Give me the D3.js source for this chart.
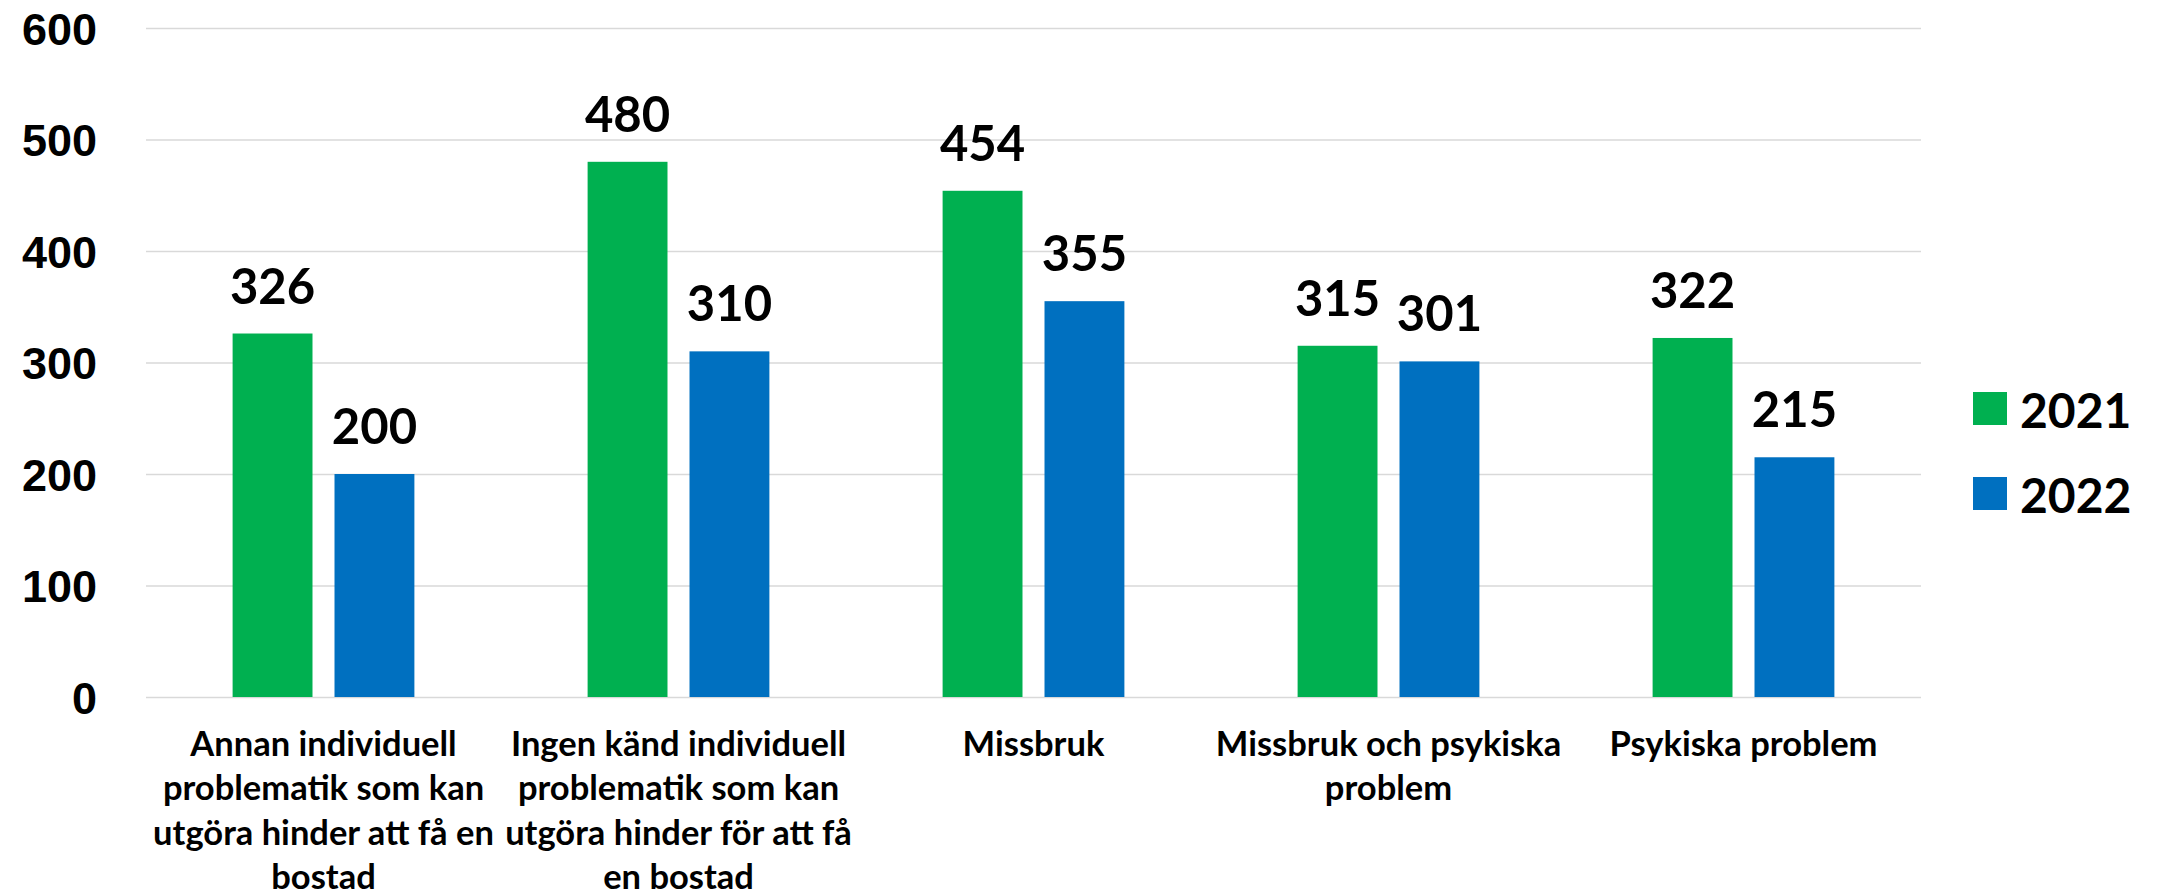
<!DOCTYPE html>
<html>
<head lang="sv">
    <meta charset="UTF-8">
    <title>Stapeldiagram 2021-2022</title>
    <script type="text/javascript" src="https://d3js.org/d3.v7.min.js"></script>
    <style type="text/css">
        body { margin: 0; background: #fff; }
        svg { font-family: Lato, "Open Sans", sans-serif; font-weight: bold; }
        .grid line { stroke: #d9d9d9; stroke-width: 1.6; }
        .grid text { font-size: 45px; fill: #000; }
        .val { font-size: 49px; fill: #000; text-anchor: middle; }
        .cat { font-size: 34.5px; fill: #000; text-anchor: middle; }
        .leg { font-size: 48px; fill: #000; }
    </style>
</head>
<body>
<script type="text/javascript">
    // data
    var categories = ["Annan", "Ingen", "Missbruk", "MissbrukPsyk", "Psykiska"];
    var categoryLines = [
        ["Annan individuell", "problematik som kan", "utgöra hinder att få en", "bostad"],
        ["Ingen känd individuell", "problematik som kan", "utgöra hinder för att få", "en bostad"],
        ["Missbruk"],
        ["Missbruk och psykiska", "problem"],
        ["Psykiska problem"]
    ];
    var seriesNames = ["2021", "2022"];
    var values2021 = [326, 480, 454, 315, 322];
    var values2022 = [200, 310, 355, 301, 215];
    var yTicks = [0, 100, 200, 300, 400, 500, 600];
    var colors = ["#00b050", "#0070c0"];

    var W = 2160, H = 894;
    var plotL = 146, plotR = 1921, plotT = 28, plotB = 697;

    var svg = d3.select("body").append("svg")
        .attr("width", W).attr("height", H);

    var y = d3.scaleLinear().domain([0, 600]).range([plotB, plotT]);
    var x0 = d3.scaleBand().domain(categories).range([plotL, plotR]);
    var x1 = d3.scaleBand().domain(seriesNames)
        .range([0, x0.bandwidth()])
        .paddingInner(0.216).paddingOuter(0.85);
    var color = d3.scaleOrdinal().domain(seriesNames).range(colors);

    // gridlines + y labels
    var yAxis = d3.axisLeft(y).tickValues(yTicks)
        .tickSize(-(plotR - plotL)).tickPadding(49);
    var g = svg.append("g").attr("class", "grid")
        .attr("transform", "translate(" + plotL + ",0)")
        .call(yAxis);
    g.select(".domain").remove();
    g.selectAll("text").attr("fill", "#000").attr("dy", "0.36em");

    var rows = categories.map(function(c, i) {
        return {cat: c, vals: [values2021[i], values2022[i]]};
    });

    var groups = svg.selectAll("g.cat-group").data(rows).enter().append("g")
        .attr("class", "cat-group")
        .attr("transform", function(d) { return "translate(" + x0(d.cat) + ",0)"; });

    var bars = groups.selectAll("g.bar").data(function(d) {
        return d.vals.map(function(v, j) { return {s: seriesNames[j], v: v}; });
    }).enter().append("g").attr("class", "bar");

    bars.append("rect")
        .attr("x", function(d) { return x1(d.s); })
        .attr("y", function(d) { return y(d.v); })
        .attr("width", x1.bandwidth())
        .attr("height", function(d) { return plotB - y(d.v); })
        .attr("fill", function(d) { return color(d.s); });

    bars.append("text").attr("class", "val")
        .attr("x", function(d) { return x1(d.s) + x1.bandwidth() / 2; })
        .attr("y", function(d) { return y(d.v) - 30; })
        .text(function(d) { return d.v; });

    // category labels, wrapped as in the original
    var catText = svg.selectAll("text.cat").data(categories).enter().append("text")
        .attr("class", "cat")
        .attr("x", function(d) { return x0(d) + x0.bandwidth() / 2; })
        .attr("y", 756);
    catText.each(function(d, i) {
        var t = d3.select(this);
        var cx = x0(d) + x0.bandwidth() / 2;
        categoryLines[i].forEach(function(line, k) {
            t.append("tspan").attr("x", cx).attr("y", 756 + k * 44.3).text(line);
        });
    });

    // legend
    var leg = svg.selectAll("g.leg").data(seriesNames).enter().append("g")
        .attr("transform", function(d, i) { return "translate(1973," + (392 + i * 85) + ")"; });
    leg.append("rect").attr("width", 34).attr("height", 33)
        .attr("fill", function(d) { return color(d); });
    leg.append("text").attr("class", "leg")
        .attr("x", 47).attr("y", 36)
        .text(function(d) { return d; });
</script>
</body>
</html>
